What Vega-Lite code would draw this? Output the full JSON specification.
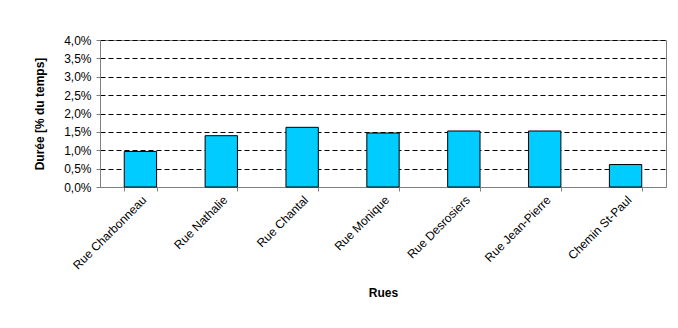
{
  "$schema": "https://vega.github.io/schema/vega-lite/v6.json",
  "width": 566,
  "height": 147,
  "autosize": {"type": "none"},
  "padding": {"left": 100, "top": 40, "right": 12, "bottom": 141},
  "background": "white",
  "config": {
    "font": "Liberation Sans",
    "view": {"stroke": "#808080", "strokeWidth": 1},
    "axis": {"labelFont": "Liberation Sans", "titleFont": "Liberation Sans", "labelColor": "#000", "titleColor": "#000"}
  },
  "data": {
    "values": [
      {"rue": "Rue Charbonneau", "duree": 0.00967},
      {"rue": "Rue Nathalie", "duree": 0.01396},
      {"rue": "Rue Chantal", "duree": 0.01624},
      {"rue": "Rue Monique", "duree": 0.01469},
      {"rue": "Rue Desrosiers", "duree": 0.01524},
      {"rue": "Rue Jean-Pierre", "duree": 0.01524},
      {"rue": "Chemin St-Paul", "duree": 0.00611}
    ]
  },
  "mark": {"type": "bar", "color": "#00CCFF", "stroke": "#000", "strokeWidth": 1},
  "encoding": {
    "x": {
      "field": "rue",
      "type": "nominal",
      "sort": null,
      "scale": {"paddingInner": 0.6, "paddingOuter": 0.3},
      "axis": {
        "title": "Rues",
        "titleFontSize": 12,
        "titleFontWeight": "bold",
        "titlePadding": 16,
        "labelAngle": -45,
        "labelFontSize": 12,
        "labelPadding": 3,
        "tickBand": "extent",
        "tickSize": 4,
        "tickColor": "#808080",
        "domainColor": "#808080",
        "grid": false
      }
    },
    "y": {
      "field": "duree",
      "type": "quantitative",
      "scale": {"domain": [0, 0.04], "nice": false},
      "axis": {
        "title": "Durée [% du temps]",
        "titleFontSize": 12,
        "titleFontWeight": "bold",
        "titlePadding": 17,
        "values": [0, 0.005, 0.01, 0.015, 0.02, 0.025, 0.03, 0.035, 0.04],
        "labelExpr": "replace(format(datum.value, '.1%'), '.', ',')",
        "labelFontSize": 12,
        "labelPadding": 5,
        "tickSize": 4,
        "tickColor": "#808080",
        "domainColor": "#808080",
        "grid": true,
        "gridColor": "#000",
        "gridDash": [5, 3],
        "gridWidth": 1,
        "gridOpacity": 1
      }
    }
  }
}
